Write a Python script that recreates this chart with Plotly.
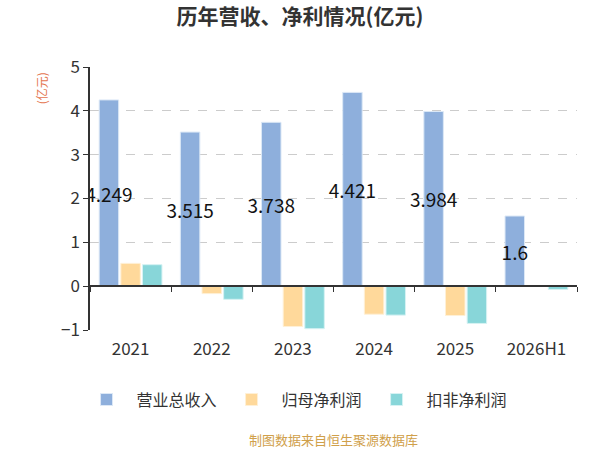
import plotly.graph_objects as go

# values (亿元)
years = ["2021", "2022", "2023", "2024", "2025", "2026H1"]
revenue = [4.249, 3.515, 3.738, 4.421, 3.984, 1.6]
net_profit = [0.52, -0.17, -0.92, -0.64, -0.67, None]
net_profit_deducted = [0.49, -0.30, -0.97, -0.66, -0.85, -0.075]
y_ticks = [-1, 0, 1, 2, 3, 4, 5]

font_cn = "Noto Sans CJK SC, Noto Sans, sans-serif"

fig = go.Figure()

fig.add_trace(go.Bar(
    x=years, y=revenue, name="营业总收入",
    marker=dict(color="#8eafdc", line=dict(color="#dce8f6", width=1)),
    text=[str(v) for v in revenue], textposition="inside", textangle=0,
    insidetextanchor="middle", constraintext="none",
    textfont=dict(color="#111111", size=19, family=font_cn),
))
fig.add_trace(go.Bar(
    x=years, y=net_profit, name="归母净利润",
    marker=dict(color="#ffd99b", line=dict(color="#fff0d6", width=1)),
))
fig.add_trace(go.Bar(
    x=years, y=net_profit_deducted, name="扣非净利润",
    marker=dict(color="#88d6d9", line=dict(color="#d6f2f3", width=1)),
))

# invisible trace so the zero-line axis (ticks between categories) is drawn
fig.add_trace(go.Scatter(x=years, y=[0] * len(years), xaxis="x2", mode="markers",
                         marker=dict(opacity=0), showlegend=False, hoverinfo="skip"))

zero_pos = (0 - y_ticks[0]) / (y_ticks[-1] - y_ticks[0])

fig.update_layout(
    width=600, height=450,
    margin=dict(l=90, r=23, t=67, b=120),
    plot_bgcolor="white", paper_bgcolor="white",
    font=dict(family=font_cn, color="#333333", size=16),
    title=dict(text="<b>历年营收、净利情况(亿元)</b>", x=0.5, xanchor="center",
               y=0.962, yanchor="middle", font=dict(size=21, color="#333333")),
    barmode="group", bargap=0.2, bargroupgap=0.1,
    showlegend=True,
    legend=dict(orientation="h", x=0.42, xanchor="center",
                y=-0.2, yanchor="top", font=dict(size=16, color="#333333"),
                itemwidth=50, traceorder="normal"),
    xaxis=dict(type="category", showline=False, ticks="", showgrid=False,
               tickfont=dict(size=17, color="#333333"), ticklabelstandoff=7),
    xaxis2=dict(type="category", overlaying="x", matches="x", anchor="free",
                position=zero_pos, side="bottom", showline=True, linecolor="#333333",
                linewidth=1.5, ticks="outside", tickson="boundaries", ticklen=5,
                tickcolor="#333333", showticklabels=False, showgrid=False),
    yaxis=dict(range=[y_ticks[0], y_ticks[-1]], tickvals=y_ticks, showline=True,
               linecolor="#333333", linewidth=1.5, ticks="outside", ticklen=5,
               tickcolor="#333333", showgrid=True, gridcolor="#cccccc",
               griddash="dash", gridwidth=1, zeroline=False,
               tickfont=dict(size=17, color="#333333")),
    annotations=[
        dict(text="(亿元)", textangle=-90, xref="paper", yref="paper",
             x=-0.1, y=0.92, xanchor="center", yanchor="middle", showarrow=False,
             font=dict(size=12, color="#e4764f")),
        dict(text="制图数据来自恒生聚源数据库", xref="paper", yref="paper",
             x=0.5, y=-0.415, xanchor="center", yanchor="middle",
             showarrow=False, font=dict(size=13, color="#d0a04a")),
    ],
)

fig.write_html("out.html", config={"displayModeBar": False},
               post_script="document.body.style.margin='0';")
